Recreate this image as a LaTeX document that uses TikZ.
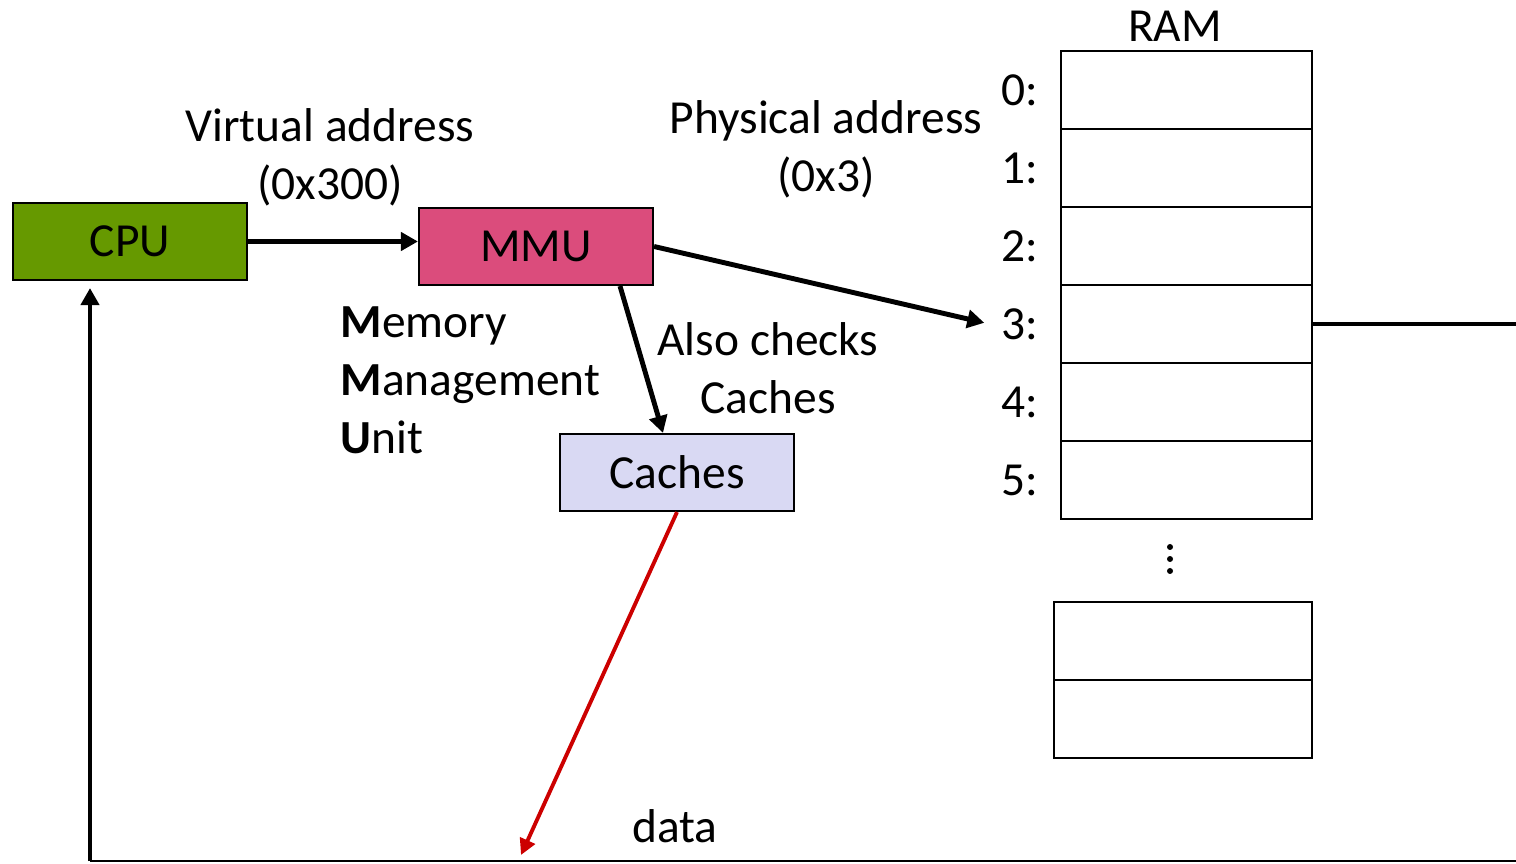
\documentclass[tikz,border=0pt]{standalone}
\usepackage{fontspec}
\setmainfont{Carlito}
\usepackage{xcolor}
\usetikzlibrary{arrows.meta,positioning,calc}

\definecolor{cpugreen}{RGB}{102,153,0}
\definecolor{mmupink}{RGB}{219,76,124}
\definecolor{cachelav}{RGB}{217,217,243}
\definecolor{datared}{RGB}{204,0,0}

\begin{document}
\begin{tikzpicture}[every node/.style={font=\fontsize{13.5}{16.5}\selectfont},
    box/.style={draw, line width=0.6pt, minimum width=2.34cm, minimum height=0.77cm, inner sep=0pt},
    cell/.style={draw, line width=0.8pt, minimum width=2.51cm, minimum height=0.78cm, inner sep=0pt, outer sep=0pt},
    arr/.style={-{Triangle[length=1.7mm,width=1.8mm]}, line width=1.4pt},
    redarr/.style={-{Triangle[length=1.6mm,width=1.6mm]}, line width=1.1pt, datared}]
            \useasboundingbox (0,0) rectangle (15.16,8.63);

            % Boxes
            \node[box, fill=cpugreen] (cpu) at (1.30,6.215) {CPU};
            \node[box, fill=mmupink] (mmu) at (5.36,6.165) {MMU};
            \node[box, fill=cachelav] (caches) at (6.77,3.905) {Caches};

            % Labels
            \node[align=center] (va) at (3.30,7.06) {Virtual address\\(0x300)};
            \node[align=center] (pa) at (8.26,7.135) {Physical address\\(0x3)};
            \node[align=left, anchor=west, inner sep=0pt] (mmulbl) at (3.40,4.83) {\textbf{M}emory\\\textbf{M}anagement\\\textbf{U}nit};
            \node[align=center] (also) at (7.68,4.945) {Also checks\\Caches};
            \node (data) at (6.75,0.37) {data};

            % RAM
            \node (ram) at (11.75,8.37) {RAM};
            \node[cell] (r0) at (11.865,7.73) {};
            \node[cell, below=0pt of r0] (r1) {};
            \node[cell, below=0pt of r1] (r2) {};
            \node[cell, below=0pt of r2] (r3) {};
            \node[cell, below=0pt of r3] (r4) {};
            \node[cell, below=0pt of r4] (r5) {};
            \node[left=0.1cm of r0] (l0) {0:};
            \node[left=0.1cm of r1] (l1) {1:};
            \node[left=0.1cm of r2] (l2) {2:};
            \node[left=0.1cm of r3] (l3) {3:};
            \node[left=0.1cm of r4] (l4) {4:};
            \node[left=0.1cm of r5] (l5) {5:};
            \fill (11.70,3.16) circle (0.03) (11.70,3.04) circle (0.03) (11.70,2.92) circle (0.03);
            \node[cell, minimum width=2.58cm] (r6) at (11.83,2.22) {};
            \node[cell, minimum width=2.58cm, below=0pt of r6] (r7) {};

            % Connectors
            \coordinate (bl) at (0.90,0.02);
            \coordinate (br) at (15.16,0.02);
            \coordinate (dataend) at (5.21,0.08);
            \draw[arr] (cpu.east) -- (cpu.east -| mmu.west);
            \draw[arr, shorten >=1.5pt] (mmu.east) -- (l3.west);
            \draw[arr] ($(mmu.south)+(0.84,0)$) -- ($(caches.north)+(-0.14,0)$);
            \draw[redarr] (caches.south) -- (dataend);
            \draw[line width=0.6pt] (bl) -- (br);
            \draw[arr, shorten >=2pt] (bl) -- (bl |- cpu.south);
            \draw[line width=1.4pt] (r3.east) -- (r3.east -| br);
        \end{tikzpicture}
\end{document}
